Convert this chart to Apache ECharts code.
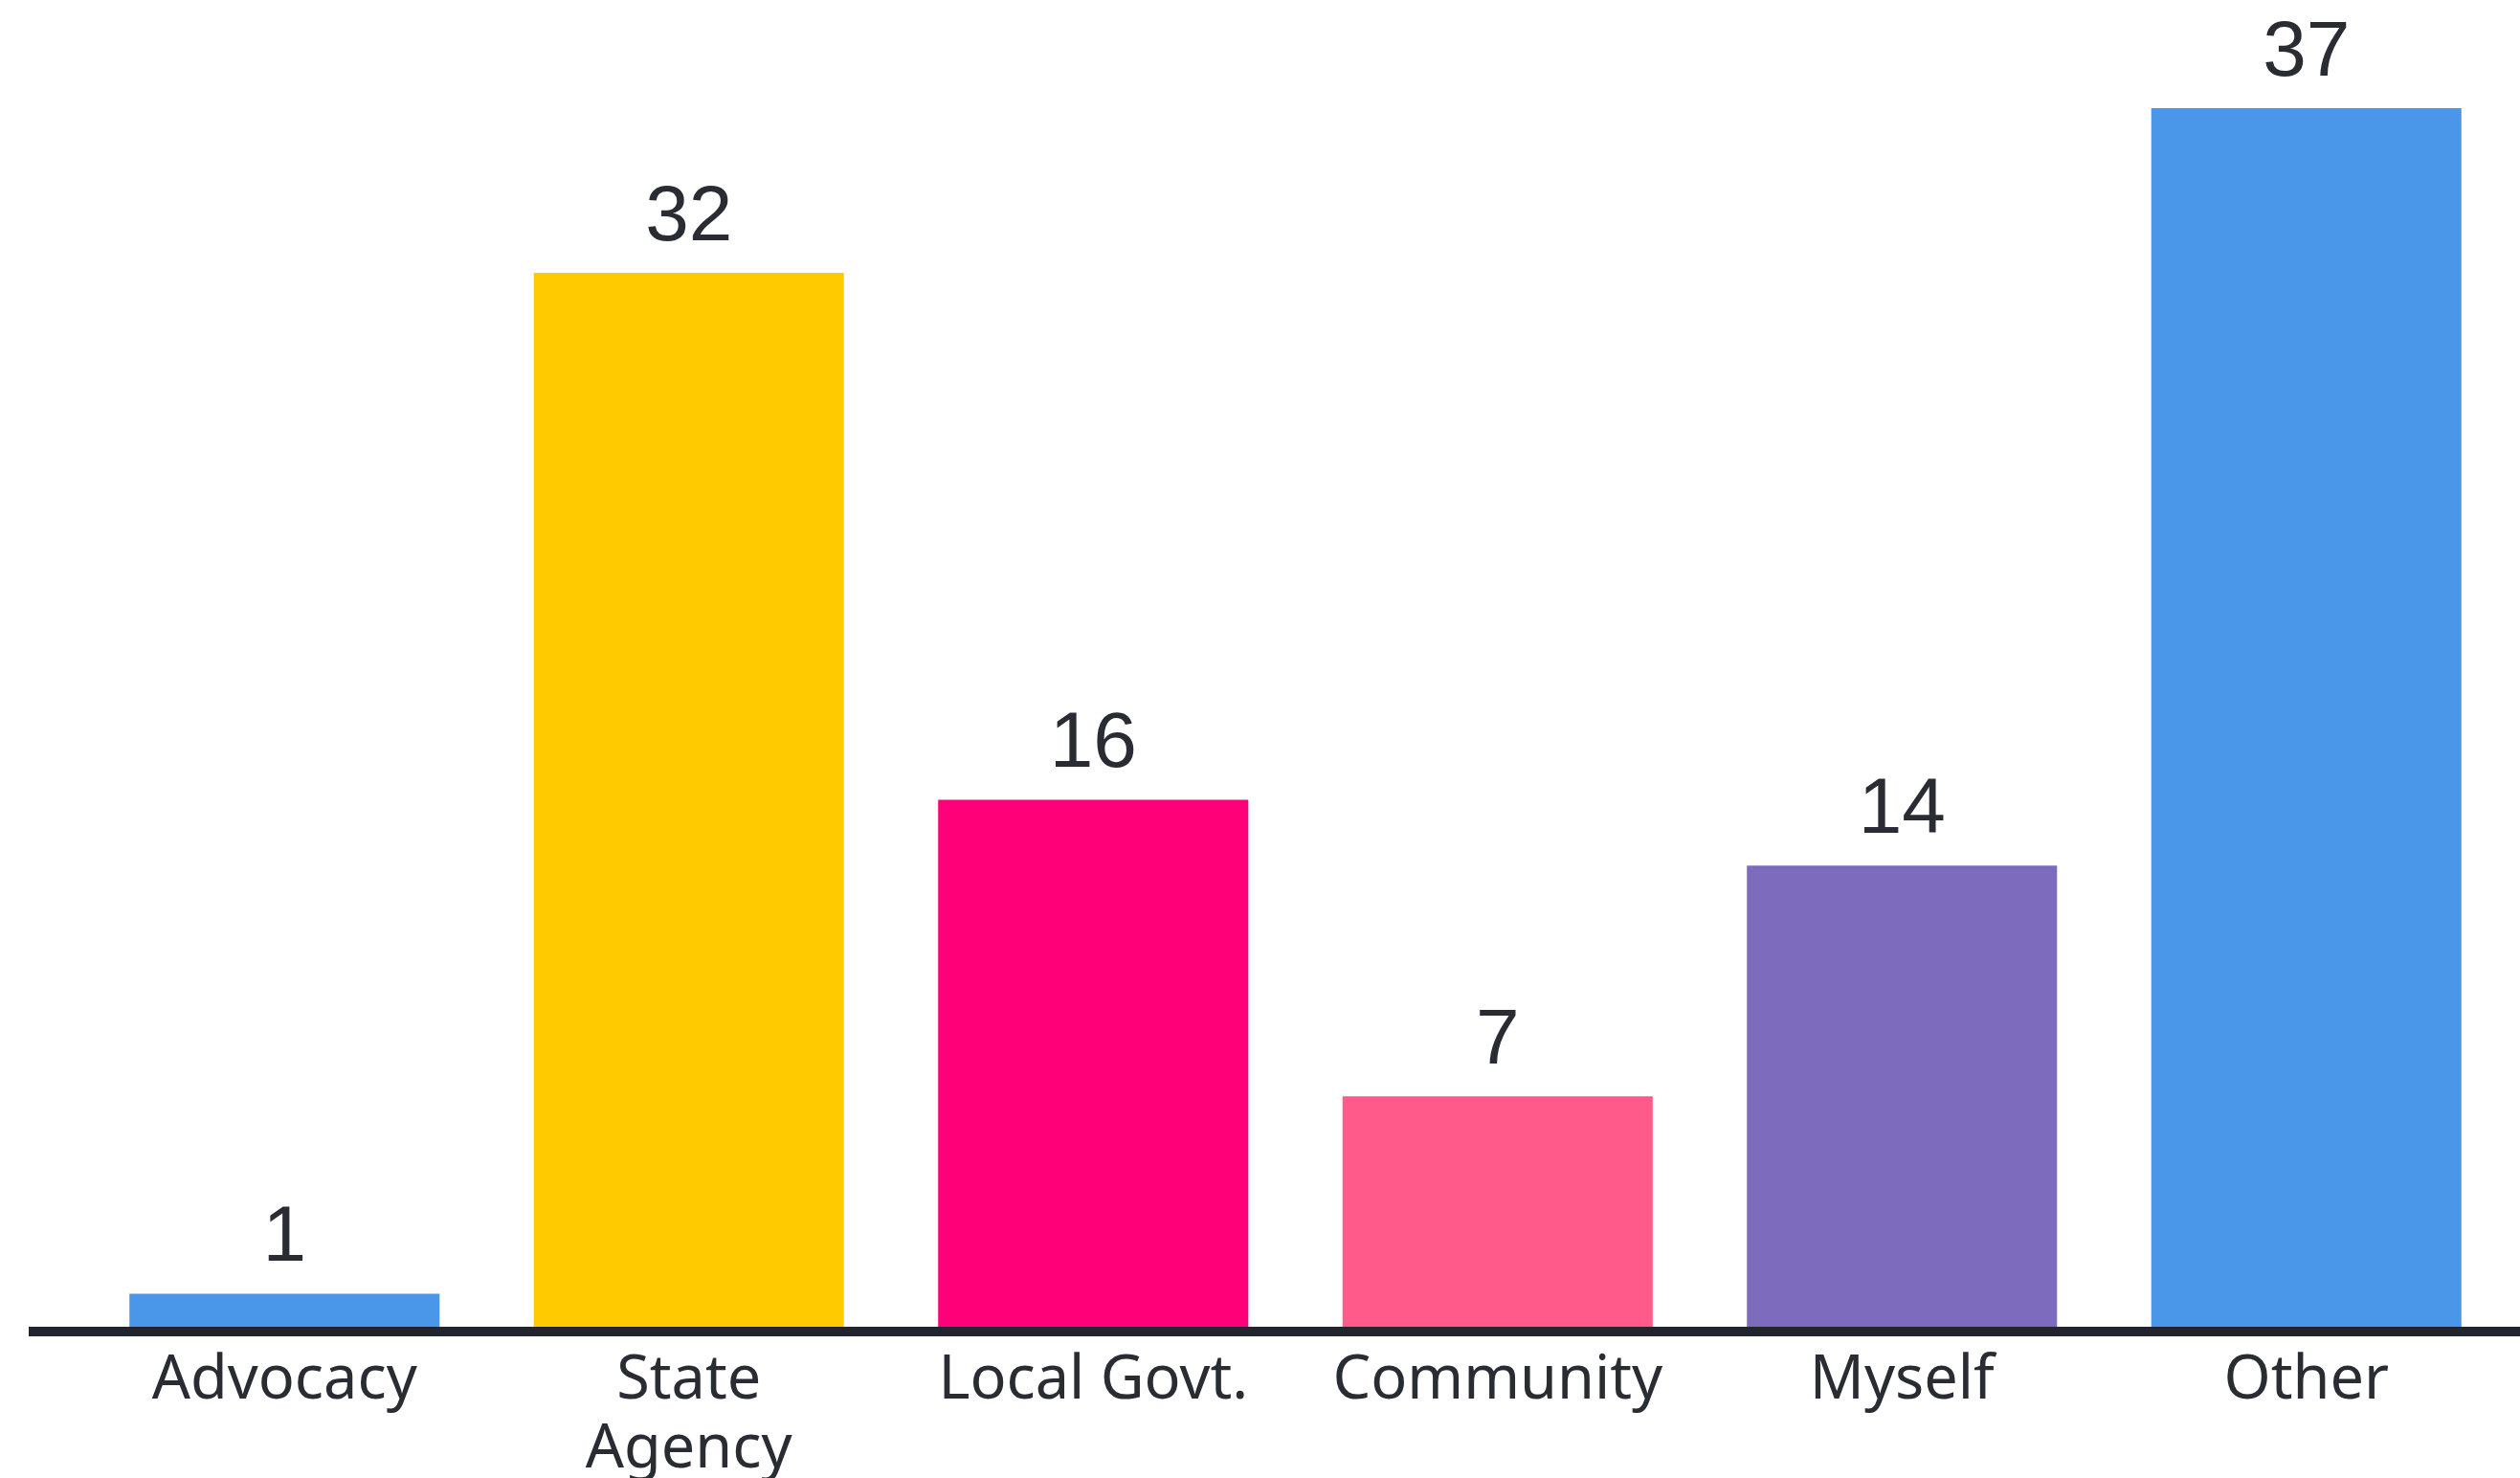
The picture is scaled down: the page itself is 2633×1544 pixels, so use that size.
<!DOCTYPE html>
<html>
<head>
<meta charset="utf-8">
<script src="https://cdn.jsdelivr.net/npm/echarts@6/dist/echarts.min.js"></script>
<style>
  html, body { margin: 0; padding: 0; background: #ffffff; }
  #chart { width: 2633px; height: 1544px; }
</style>
</head>
<body>
<div id="chart"></div>
<script>
// Responses by source
const categories = ['Advocacy', 'State\nAgency', 'Local Govt.', 'Community', 'Myself', 'Other'];
const counts = [1, 32, 16, 7, 14, 37];
const barColors = ['#4A97EA', '#FFCB00', '#FF0078', '#FF5A8A', '#7D6BBE', '#4A97EA'];

const chart = echarts.init(document.getElementById('chart'));

const option = {
  backgroundColor: '#ffffff',
  animation: false,
  grid: {
    left: 86, right: 12, top: 113, bottom: 158,
    containLabel: false,
    outerBoundsMode: 'none'
  },
  xAxis: {
    type: 'category',
    data: categories,
    axisLine: { show: false },
    axisTick: { show: false },
    axisLabel: {
      interval: 0,
      margin: 21,
      fontFamily: 'Noto Sans',
      fontSize: 63,
      lineHeight: 72,
      color: '#2A2C33'
    }
  },
  yAxis: {
    type: 'value',
    min: 0,
    max: 37,
    show: false,
    splitLine: { show: false }
  },
  series: [{
    type: 'bar',
    barWidth: '76.7%',
    data: counts.map((v, i) => ({ value: v, itemStyle: { color: barColors[i] } })),
    label: {
      show: true,
      position: 'top',
      distance: 16,
      fontFamily: 'Liberation Sans',
      fontSize: 82,
      lineHeight: 82,
      color: '#2A2C33'
    }
  }]
};

chart.setOption(option);

// Baseline rule under the bars, running to the right edge
const zeroY = chart.convertToPixel({ yAxisIndex: 0 }, 0);
chart.setOption({
  graphic: [{
    type: 'line',
    z: 10,
    shape: { x1: 30, y1: zeroY + 5, x2: 2633, y2: zeroY + 5 },
    style: { stroke: '#22252E', lineWidth: 10 }
  }]
});
</script>
</body>
</html>
